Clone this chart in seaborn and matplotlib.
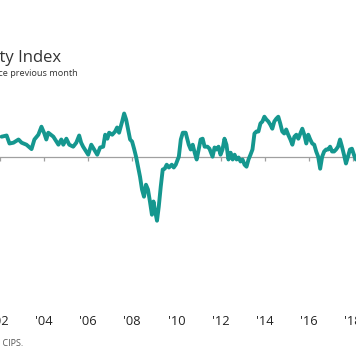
import numpy as np
import pandas as pd
from matplotlib import pyplot as plt
import seaborn as sns

# monthly index readings (50 = no change)
years = [2002.07, 2002.30, 2002.43, 2002.61, 2002.84, 2002.98, 2003.20, 2003.43, 2003.56, 2003.74,
         2003.88, 2004.01, 2004.10, 2004.19, 2004.42, 2004.56, 2004.65, 2004.78, 2004.87, 2005.01,
         2005.14, 2005.32, 2005.46, 2005.59, 2005.68, 2005.77, 2005.91, 2006.00, 2006.14, 2006.27,
         2006.41, 2006.54, 2006.68, 2006.77, 2006.87, 2006.95, 2007.09, 2007.22, 2007.31, 2007.40,
         2007.54, 2007.63, 2007.72, 2007.81, 2007.90, 2007.99, 2008.08, 2008.17, 2008.26, 2008.35,
         2008.44, 2008.53, 2008.62, 2008.71, 2008.80, 2008.89, 2008.96, 2009.02, 2009.12, 2009.20,
         2009.29, 2009.38, 2009.47, 2009.56, 2009.66, 2009.79, 2009.88, 2009.97,
         2010.11, 2010.20, 2010.29, 2010.42, 2010.56, 2010.65, 2010.74, 2010.83, 2010.92, 2011.01,
         2011.10, 2011.19, 2011.28, 2011.41, 2011.50, 2011.64, 2011.73, 2011.82, 2011.91, 2012.00,
         2012.09, 2012.18, 2012.27, 2012.36, 2012.46, 2012.55, 2012.64, 2012.73, 2012.82, 2012.91,
         2013.00, 2013.09, 2013.18, 2013.27, 2013.36, 2013.45, 2013.54, 2013.63, 2013.72, 2013.81,
         2013.90, 2013.99, 2014.08, 2014.17, 2014.26, 2014.35, 2014.44, 2014.53, 2014.62, 2014.71,
         2014.80, 2014.89, 2014.98, 2015.07, 2015.17, 2015.26, 2015.35, 2015.44, 2015.53, 2015.62,
         2015.71, 2015.80, 2015.89, 2015.98, 2016.07, 2016.16, 2016.25, 2016.34, 2016.43, 2016.52,
         2016.61, 2016.70, 2016.79, 2016.88, 2016.97, 2017.06, 2017.15, 2017.24, 2017.33, 2017.42,
         2017.51, 2017.60, 2017.69, 2017.78, 2017.87, 2017.96, 2018.05, 2018.14]
index = [55.0, 55.3, 53.3, 53.5, 54.3, 53.5, 53.0, 51.9, 54.3, 55.5,
         57.5, 55.8, 54.3, 56.0, 55.0, 53.8, 53.0, 54.3, 53.0, 54.5,
         53.0, 52.5, 53.5, 55.3, 53.5, 52.5, 51.3, 50.5, 53.0, 51.8,
         50.5, 52.3, 52.5, 55.5, 54.5, 56.0, 55.5, 56.3, 57.3, 56.0,
         58.8, 60.8, 59.3, 56.8, 54.3, 53.8, 52.0, 50.0, 47.5, 45.0,
         41.8, 40.0, 43.0, 41.8, 38.8, 35.5, 38.8, 36.8, 34.0, 37.5,
         42.5, 46.8, 47.0, 48.0, 47.3, 48.0, 47.3, 48.0,
         50.0, 54.3, 56.0, 56.0, 53.0, 51.8, 53.0, 51.0, 49.3, 51.8,
         54.3, 54.5, 52.5, 52.5, 52.0, 50.0, 52.3, 51.8, 52.5, 50.5,
         51.8, 54.5, 53.0, 49.3, 51.0, 49.3, 50.5, 49.3, 49.8, 48.8,
         49.3, 48.0, 47.5, 49.3, 50.5, 51.8, 55.8, 56.3, 56.3, 58.3,
         58.8, 60.0, 59.3, 58.8, 58.0, 57.0, 58.8, 59.5, 60.0, 58.3,
         56.3, 55.8, 56.8, 55.5, 54.3, 53.0, 55.0, 55.5, 54.5, 55.8,
         57.0, 55.5, 53.3, 55.5, 54.3, 53.3, 53.0, 51.3, 50.0, 47.0,
         50.0, 51.3, 51.8, 51.8, 52.5, 51.3, 51.3, 51.8, 52.5, 54.3,
         52.5, 50.5, 48.3, 50.0, 51.8, 52.0, 50.5, 49.3]
tick_years = [2002, 2004, 2006, 2008, 2010, 2012, 2014, 2016, 2018]
tick_labels = ["'02", "'04", "'06", "'08", "'10", "'12", "'14", "'16", "'18"]

df = pd.DataFrame({'year': years, 'index': index})

sns.set_style('white')
plt.rcParams['font.family'] = ['Open Sans', 'DejaVu Sans']

W, H = 356, 364
fig = plt.figure(figsize=(W/100, H/100), dpi=100)
ax = fig.add_axes([0, (H-235)/H, 1, 135/H])

sns.lineplot(data=df, x='year', y='index', color='#15978f', linewidth=2.8, ax=ax,
             solid_capstyle='round', solid_joinstyle='round')

ax.set_xlim(2002.072, 2018.145)
ax.set_ylim(30.425, 64.175)
ax.set_xlabel('')
ax.set_ylabel('')
ax.set_yticks([])
for s in ['top', 'left', 'right']:
    ax.spines[s].set_visible(False)
ax.spines['bottom'].set_position(('data', 50))
ax.spines['bottom'].set_color('#a0a0a0')
ax.spines['bottom'].set_linewidth(0.9)
ax.spines['bottom'].set_zorder(1)
ax.set_xticks(tick_years)
ax.set_xticklabels(tick_labels)
ax.tick_params(axis='x', direction='out', length=3, width=0.9, color='#a0a0a0',
               pad=111, labelsize=9.3, labelcolor='#222222', bottom=True)

fig.text(61/W, 1-62/H, 'Construction Activity Index', ha='right', va='baseline',
         fontsize=12, color='#333333')
fig.text(78/W, 1-76/H, 'Index, 50 = no change since previous month', ha='right',
         va='baseline', fontsize=6.6, color='#333333')
fig.text(23/W, 1-346/H, 'Source: IHS Markit and CIPS.', ha='right', va='baseline',
         fontsize=6.5, color='#555555')

fig.savefig('out.png', dpi=100)
